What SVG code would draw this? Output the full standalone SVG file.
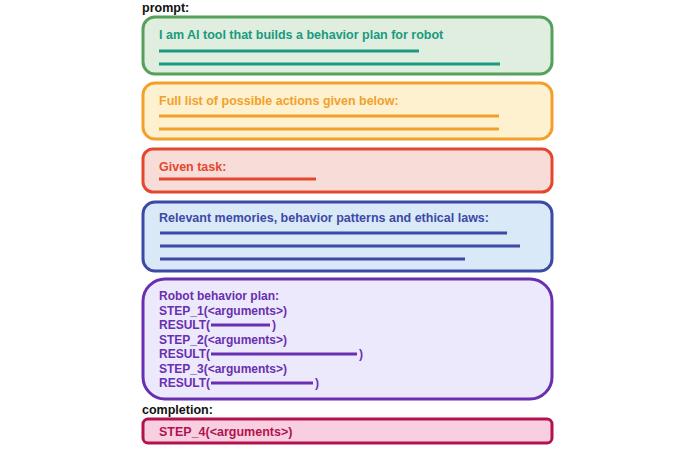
<svg xmlns="http://www.w3.org/2000/svg" width="696" height="449" viewBox="0 0 696 449">
<style>
text{font-family:"Liberation Sans",Arial,sans-serif;font-weight:700;font-size:12.5px}
.p text{font-size:12px}
.box{stroke-width:3}
.ln{stroke-width:3;stroke-linecap:butt}
</style>
<rect width="696" height="449" fill="#fff"/>
<text x="142" y="12" fill="#111">prompt:</text>
<g id="n1"><rect class="box" x="143" y="17" width="409" height="57" rx="12" fill="#dfeedf" stroke="#55a05a"/>
<text x="159" y="39" fill="#1a9a80">I am AI tool that builds a behavior plan for robot</text>
<line class="ln" x1="159" y1="51" x2="419" y2="51" stroke="#1a9a80"/><line class="ln" x1="159" y1="64" x2="500" y2="64" stroke="#1a9a80"/></g>
<g id="n2"><rect class="box" x="143" y="83" width="409" height="56" rx="12" fill="#fdf1cf" stroke="#f3a02b"/>
<text x="159" y="105" fill="#f3a02b">Full list of possible actions given below:</text>
<line class="ln" x1="159" y1="116" x2="499" y2="116" stroke="#f3a02b"/><line class="ln" x1="159" y1="129" x2="499" y2="129" stroke="#f3a02b"/></g>
<g id="n3"><rect class="box" x="143" y="149" width="409" height="43" rx="10" fill="#f8dcd8" stroke="#e5472e"/>
<text x="159" y="171" fill="#e5472e">Given task:</text>
<line class="ln" x1="159" y1="179" x2="316" y2="179" stroke="#e5472e"/></g>
<g id="n4"><rect class="box" x="143" y="202" width="409" height="69" rx="12" fill="#d9e9f8" stroke="#3d49a6"/>
<text x="159" y="222" fill="#3d49a6">Relevant memories, behavior patterns and ethical laws:</text>
<line class="ln" x1="160" y1="233" x2="507" y2="233" stroke="#3d49a6"/><line class="ln" x1="160" y1="246" x2="520" y2="246" stroke="#3d49a6"/><line class="ln" x1="160" y1="259" x2="465" y2="259" stroke="#3d49a6"/></g>
<g id="n5" class="p"><rect class="box" x="143" y="279" width="409" height="120" rx="22" fill="#ebe9fb" stroke="#6a2fb0"/>
<g fill="#6a2fb0"><text x="159" y="300">Robot behavior plan:</text>
<text x="159" y="315">STEP_1(&lt;arguments&gt;)</text>
<text x="159" y="329">RESULT(</text><text x="272" y="329">)</text>
<text x="159" y="344">STEP_2(&lt;arguments&gt;)</text>
<text x="159" y="358">RESULT(</text><text x="359" y="358">)</text>
<text x="159" y="373">STEP_3(&lt;arguments&gt;)</text>
<text x="159" y="387">RESULT(</text><text x="315" y="387">)</text></g>
<line class="ln" x1="211" y1="325" x2="270" y2="325" stroke="#6a2fb0"/><line class="ln" x1="211" y1="354" x2="357" y2="354" stroke="#6a2fb0"/><line class="ln" x1="211" y1="383" x2="313" y2="383" stroke="#6a2fb0"/></g>
<text x="142" y="414" fill="#111">completion:</text>
<g id="n6"><rect class="box" x="143" y="419" width="409" height="24" rx="5" fill="#f8cfe0" stroke="#b3124f"/>
<text x="159" y="436" fill="#b3124f">STEP_4(&lt;arguments&gt;)</text></g>
<g id="connectors"/>
</svg>
